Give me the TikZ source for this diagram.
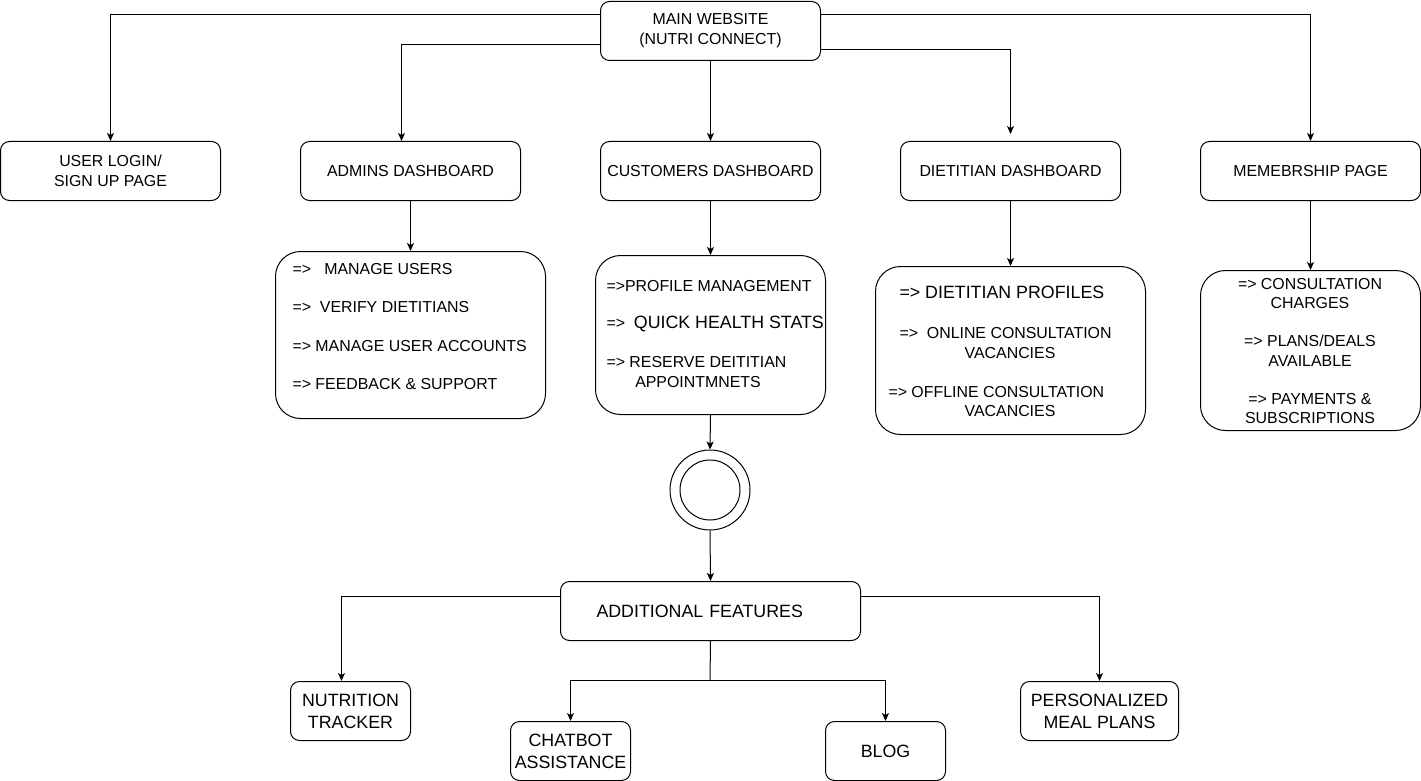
\documentclass[tikz,border=0pt]{standalone}
\usepackage{fontspec}
\setmainfont{Liberation Sans}
\usetikzlibrary{arrows.meta}
\begin{document}
\begin{tikzpicture}[x=1pt,y=-1pt,line width=1pt,
  box/.style={draw,rounded corners=9pt,anchor=north west,inner sep=0pt,align=center,
    font=\fontsize{15.9}{20}\selectfont},
  bigbox/.style={box,font=\fontsize{17.8}{22}\selectfont},
  listbox/.style={draw,rounded corners=25pt,anchor=north west,inner sep=0pt},
  item/.style={anchor=base west,inner sep=0pt,font=\fontsize{15.9}{20}\selectfont},
  bigitem/.style={item,font=\fontsize{17.8}{22}\selectfont},
  citem/.style={anchor=base,inner sep=0pt,font=\fontsize{15.9}{20}\selectfont},
  arr/.style={-{Stealth[length=8pt,width=7pt,inset=2pt]}}]
\useasboundingbox (0,0) rectangle (1421,781);

% top level
\node[box,minimum width=220,minimum height=59] (main) at (600,1) {MAIN WEBSITE\\(NUTRI CONNECT)};
\node[box,minimum width=220,minimum height=59] (login) at (0,141) {USER LOGIN/\\SIGN UP PAGE};
\node[box,minimum width=220,minimum height=59] (admin) at (300,141) {ADMINS DASHBOARD};
\node[box,minimum width=220,minimum height=59] (cust) at (600,141) {CUSTOMERS DASHBOARD};
\node[box,minimum width=220,minimum height=59] (diet) at (900,141) {DIETITIAN DASHBOARD};
\node[box,minimum width=220,minimum height=59] (memb) at (1200,141) {MEMEBRSHIP PAGE};

% detail panels
\node[listbox,minimum width=270,minimum height=167] (adminL) at (275,251) {};
\node[item] (a1) at (292,274) {=>\ \ \ MANAGE USERS};
\node[item] (a2) at (292,312) {=>\ \ VERIFY DIETITIANS};
\node[item] (a3) at (292,351) {=> MANAGE USER ACCOUNTS};
\node[item] (a4) at (292,389) {=> FEEDBACK \& SUPPORT};

\node[listbox,minimum width=230,minimum height=159] (custL) at (595,255) {};
\node[item] (c1) at (606,291) {=>PROFILE MANAGEMENT};
\node[item] (c2) at (606,328) {=>\ \ \fontsize{17.8}{22}\selectfont QUICK HEALTH STATS};
\node[item] (c3) at (606,367) {=> RESERVE DEITITIAN};
\node[citem] (c4) at (698,387) {APPOINTMNETS};

\node[listbox,minimum width=270,minimum height=168] (dietL) at (875,266) {};
\node[bigitem] (d1) at (899,298) {=> DIETITIAN PROFILES};
\node[item] (d2) at (899,338) {=>\ \ ONLINE CONSULTATION};
\node[citem] (d3) at (1010,358) {VACANCIES};
\node[item] (d4) at (888,397) {=> OFFLINE CONSULTATION};
\node[citem] (d5) at (1010,416) {VACANCIES};

\node[listbox,minimum width=220,minimum height=160] (membL) at (1200,270) {};
\node[citem] (m1) at (1310,289) {=> CONSULTATION};
\node[citem] (m2) at (1310,308) {CHARGES};
\node[citem] (m3) at (1310,346) {=> PLANS/DEALS};
\node[citem] (m4) at (1310,366) {AVAILABLE};
\node[citem] (m5) at (1310,404) {=> PAYMENTS \&};
\node[citem] (m6) at (1310,423) {SUBSCRIPTIONS};

% merge point
\node[circle,draw,minimum size=80,inner sep=0pt] (circ) at (710,490) {};
\node[circle,draw,minimum size=60,inner sep=0pt] (circin) at (710,490) {};

% additional features
\node[box,minimum width=300,minimum height=59,text width=300,align=left,
  font=\fontsize{17.8}{22}\selectfont] (addf) at (560,581) {\hspace*{36pt}ADDITIONAL FEATURES};
\node[bigbox,minimum width=120,minimum height=59] (nutr) at (290,681) {NUTRITION\\TRACKER};
\node[bigbox,minimum width=120,minimum height=59] (chat) at (510,721) {CHATBOT\\ASSISTANCE};
\node[bigbox,minimum width=120,minimum height=59] (blog) at (825,721) {BLOG};
\node[bigbox,minimum width=158,minimum height=59] (meal) at (1020,681) {PERSONALIZED\\MEAL PLANS};

% connectors from the main page
\draw[arr] (main.west |- 0,15) -| (login.north);
\draw[arr] (main.west |- 0,45) -| ([xshift=-9pt]admin.north);
\draw[arr] (main.south) -- (cust.north);
\draw[arr,shorten >=7pt] (main.east |- 0,50) -| (diet.north);
\draw[arr] (main.east |- 0,15) -| (memb.north);

% dashboards to their panels
\draw[arr] (admin.south) -- (adminL.north);
\draw[arr] (cust.south) -- (custL.north);
\draw[arr] (diet.south) -- (dietL.north);
\draw[arr] (memb.south) -- (membL.north);

% customer flow
\draw[arr] (custL.south) -- (circ.north);
\draw[arr] (circ.south) -- (addf.north);

% additional features branches
\coordinate (split) at (710,680);
\draw[arr] (addf.west |- 0,596) -| ([xshift=-9pt]nutr.north);
\draw[arr] (addf.east |- 0,596) -| (meal.north);
\draw (addf.south) -- (split);
\draw[arr] (split) -| (chat.north);
\draw[arr] (split) -| (blog.north);
\end{tikzpicture}
\end{document}
